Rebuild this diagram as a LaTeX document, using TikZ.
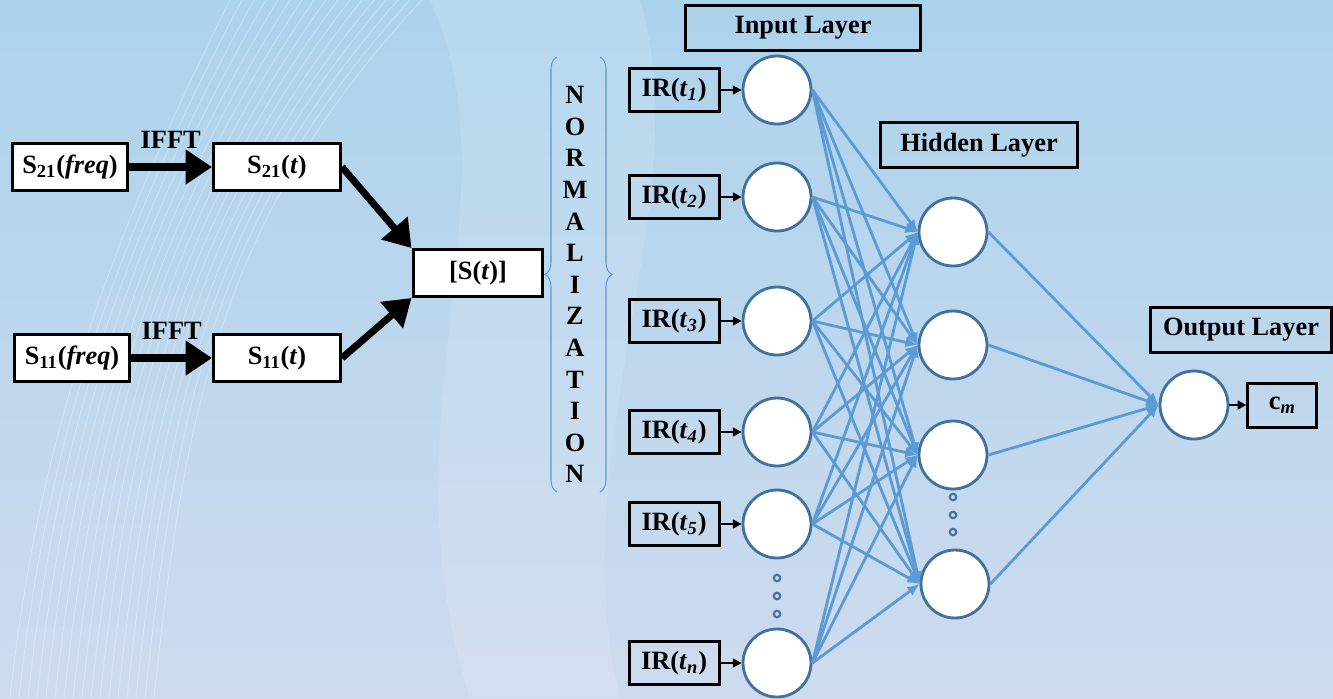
\documentclass[tikz,border=0pt]{standalone}
\usepackage{fontspec}
\setmainfont{Liberation Serif}
\usetikzlibrary{positioning,arrows.meta,decorations.pathreplacing}
\definecolor{netblue}{RGB}{91,155,213}
\definecolor{ringblue}{RGB}{65,113,156}
\definecolor{bgtop}{RGB}{172,211,236}
\definecolor{bgbot}{RGB}{206,219,238}
\tikzset{
  box/.style={draw, line width=1.7pt, inner sep=0pt},
  sbox/.style={box, fill=white, minimum width=2.54cm, minimum height=0.94cm},
  irbox/.style={box, minimum width=1.8cm, minimum height=0.86cm},
  layerbox/.style={box, minimum height=0.9cm},
  neuron/.style={circle, draw=ringblue, line width=1.6pt, fill=white, minimum size=1.36cm, inner sep=0pt},
  dotnode/.style={circle, draw=ringblue, line width=1.2pt, minimum size=0.13cm, inner sep=0pt},
  bigarrow/.style={line width=4pt, -{Triangle[length=15pt,width=19pt]}},
  smallarrow/.style={line width=1.2pt, -{Triangle[length=5pt,width=5pt]}},
  link/.style={netblue, line width=1.6pt, -{Latex[length=7pt,width=6pt]}},
  bracket/.style={netblue, line width=0.6pt, decorate, decoration={brace, amplitude=0.24cm}}
}
\begin{document}
\begin{tikzpicture}[x=0.02cm, y=-0.02cm, font=\fontsize{15}{18}\selectfont\bfseries]
\useasboundingbox (0,0) rectangle (1333,698);
% background
\shade[top color=bgtop, bottom color=bgbot] (0,0) rectangle (1333,698);
\fill[white, opacity=0.12] (430,0) .. controls (520,200) and (380,420) .. (470,698)
  -- (620,698) .. controls (560,450) and (700,200) .. (640,0) -- cycle;
\foreach \k in {0,...,16}
  \draw[white, opacity=0.3, line width=0.5pt] (10+9*\k,698) .. controls (40+9*\k,420) and (120+6*\k,220) .. (230+12*\k,0);

% S-parameter chain
\node[sbox, minimum width=2.32cm] (Sf21) at (70,167) {S\textsubscript{21}(\textit{freq})};
\node[sbox] (St21) at (277,167) {S\textsubscript{21}(\textit{t})};
\node[sbox, minimum width=2.32cm] (Sf11) at (72,358) {S\textsubscript{11}(\textit{freq})};
\node[sbox] (St11) at (277,358) {S\textsubscript{11}(\textit{t})};
\node[sbox, minimum width=2.6cm] (S) at (478,273) {[S(\textit{t})]};
\draw[bigarrow] (Sf21) -- node[above=5pt] {IFFT} (St21);
\draw[bigarrow] (Sf11) -- node[above=5pt] {IFFT} (St11);
\draw[bigarrow] (St21.east) -- (S.north west);
\draw[bigarrow] (St11.east) -- (S.south west);

% normalization
\foreach \l [count=\i from 0] in {N,O,R,M,A,L,I,Z,A,T,I,O,N}
  \node (N\i) at (575,95+31.6*\i) {\l};
\coordinate (BL1) at (557,492);
\coordinate (BL2) at (557,57);
\coordinate (BR1) at (600,57);
\coordinate (BR2) at (600,492);
\draw[bracket] (BL1) -- (BL2);
\draw[bracket] (BR1) -- (BR2);

% input layer
\node[neuron] (I1) at (777,90) {};
\node[neuron] (I2) at (777,197) {};
\node[neuron] (I3) at (777,321) {};
\node[neuron] (I4) at (777,432) {};
\node[neuron] (I5) at (777,524) {};
\node[neuron] (I6) at (777,663) {};
\node[irbox, left=0.42cm of I1] (R1) {IR(\textit{t}\textsubscript{\textit{1}})};
\node[irbox, left=0.42cm of I2] (R2) {IR(\textit{t}\textsubscript{\textit{2}})};
\node[irbox, left=0.42cm of I3] (R3) {IR(\textit{t}\textsubscript{\textit{3}})};
\node[irbox, left=0.42cm of I4] (R4) {IR(\textit{t}\textsubscript{\textit{4}})};
\node[irbox, left=0.42cm of I5] (R5) {IR(\textit{t}\textsubscript{\textit{5}})};
\node[irbox, left=0.42cm of I6] (R6) {IR(\textit{t}\textsubscript{\textit{n}})};
\foreach \a in {1,...,6}
  \draw[smallarrow] (R\a) -- (I\a);
\node[dotnode] (ID1) at (777,578) {};
\node[dotnode] (ID2) at (777,596) {};
\node[dotnode] (ID3) at (777,614) {};

% hidden and output layers
\node[neuron] (H1) at (953,232) {};
\node[neuron] (H2) at (953,345) {};
\node[neuron] (H3) at (953,455) {};
\node[neuron] (H4) at (955,584) {};
\node[dotnode] (HD1) at (953,497) {};
\node[dotnode] (HD2) at (953,515) {};
\node[dotnode] (HD3) at (953,532) {};
\node[neuron] (O) at (1194,405) {};
\node[irbox, minimum width=1.38cm, minimum height=0.88cm, right=0.34cm of O] (C) {c\textsubscript{\textit{m}}};
\draw[smallarrow] (O) -- (C);
\foreach \a in {1,...,6}
  \foreach \b in {1,...,4}
    \draw[link] (I\a.east) -- (H\b.west);
\foreach \b in {1,...,4}
  \draw[link] (H\b.east) -- (O.west);

% layer titles
\node[layerbox, minimum width=4.7cm] (LI) at (803,28) {Input Layer};
\node[layerbox, minimum width=3.96cm] (LH) at (979,145) {Hidden Layer};
\node[layerbox, minimum width=3.62cm] (LO) at (1241,330) {Output Layer};
\end{tikzpicture}
\end{document}
